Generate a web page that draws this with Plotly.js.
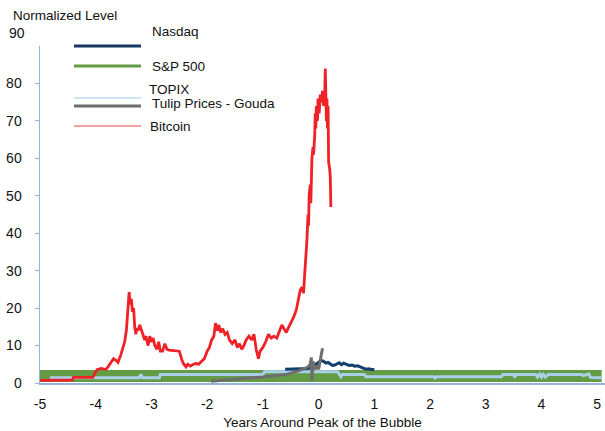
<!DOCTYPE html>
<html>
<head>
<meta charset="utf-8">
<script src="https://cdn.plot.ly/plotly-3.0.1.min.js"></script>
<style>html,body{margin:0;padding:0;background:#fff;}#chart{width:605px;height:431px;}</style>
</head>
<body>
<div id="chart"></div>
<script>
// ---- data ----
const xTickVals = [-5,-4,-3,-2,-1,0,1,2,3,4,5];
const xTickText = ["-5","-4","-3","-2","-1","0","1","2","3","4","5"];
const yTickVals = [0,10,20,30,40,50,60,70,80];
const yTickText = ["0","10","20","30","40","50","60","70","80"];

const seriesNames = ["Nasdaq","S&P 500","TOPIX","Tulip Prices - Gouda","Bitcoin"];

const sp500X = [-5.0,-4.0,-3.0,-2.0,-1.0,0.0,1.0,2.0,3.0,4.0,5.08];
const sp500Y = [1.9,1.9,1.9,1.9,1.9,1.9,1.9,1.9,1.9,1.9,1.9];

const topixX = [-4.82,-3.22,-3.19,-3.16,-2.86,-2.84,-1.0,-0.97,0.34,0.37,0.40,0.43,0.82,0.85,2.07,2.09,2.12,3.28,3.31,3.5,3.52,3.55,3.9,3.93,3.97,4.0,4.03,4.07,4.12,4.15,4.2,4.72,4.75,4.85,4.88,5.08];
const topixY = [1.4,1.4,2.3,1.4,1.4,2.3,2.3,3.0,3.0,2.3,1.7,2.3,2.3,1.7,1.7,1.3,1.7,1.7,2.3,2.3,1.5,2.3,2.3,1.6,2.4,1.6,2.3,1.6,2.3,2.3,2.3,2.3,2.0,2.4,1.5,1.4];

const nasdaqX = [-0.6,-0.45,-0.3,-0.18,-0.12,-0.06,0.0,0.05,0.09,0.13,0.17,0.21,0.25,0.29,0.33,0.37,0.41,0.45,0.5,0.55,0.6,0.65,0.7,0.75,0.8,0.85,0.9,0.95,1.0];
const nasdaqY = [3.7,3.8,3.8,3.9,4.3,4.9,5.6,6.0,5.8,5.3,5.5,5.0,4.7,4.8,5.1,5.4,4.9,5.3,5.0,4.7,4.8,4.5,4.6,4.2,4.0,3.7,3.8,3.6,3.6];

const tulipX = [-1.93,-1.5,-1.0,-0.57,-0.35,-0.2,-0.15,-0.13,-0.12,-0.1,-0.07,-0.04,0.0,0.07];
const tulipY = [0.5,1.0,1.6,2.3,3.3,4.2,5.0,6.8,0.6,5.8,3.6,4.6,3.7,9.3];

const btcX = [-5.0,-4.6,-4.42,-4.4,-4.05,-4.0,-3.97,-3.9,-3.82,-3.78,-3.72,-3.68,-3.63,-3.6,-3.55,-3.52,-3.48,-3.45,-3.42,-3.4,-3.38,-3.36,-3.34,-3.32,-3.3,-3.28,-3.27,-3.24,-3.21,-3.18,-3.15,-3.12,-3.1,-3.06,-3.03,-3.0,-2.97,-2.94,-2.9,-2.87,-2.84,-2.8,-2.76,-2.72,-2.68,-2.6,-2.5,-2.45,-2.42,-2.38,-2.35,-2.3,-2.25,-2.2,-2.15,-2.1,-2.05,-2.0,-1.96,-1.92,-1.88,-1.85,-1.82,-1.79,-1.76,-1.72,-1.68,-1.64,-1.6,-1.55,-1.5,-1.46,-1.42,-1.38,-1.34,-1.3,-1.25,-1.2,-1.16,-1.12,-1.08,-1.05,-1.0,-0.95,-0.9,-0.85,-0.8,-0.75,-0.7,-0.66,-0.62,-0.58,-0.55,-0.5,-0.45,-0.4,-0.36,-0.33,-0.3,-0.27,-0.25,-0.23,-0.21,-0.19,-0.18,-0.17,-0.15,-0.14,-0.13,-0.12,-0.1,-0.09,-0.07,-0.06,-0.05,-0.04,-0.02,-0.01,0.01,0.03,0.05,0.07,0.09,0.11,0.12,0.13,0.14,0.15,0.16,0.17,0.18,0.2,0.21,0.22];
const btcY = [0.7,0.7,0.8,1.5,1.5,3.0,3.6,3.9,3.6,4.3,5.5,6.5,6.0,5.5,7.5,9.0,11,14,19,24.3,21,22.5,19,20,15,13,14.5,14,15.5,14,12.5,11.5,12.5,10,12.5,11,12,10,9,11,8.5,8.5,10.5,9,8.8,8.6,8.5,6.0,5.0,4.3,5.0,4.5,5.0,5.2,5.0,5.8,6.5,8.5,9.5,11.5,12.5,16,14,15.5,13.5,14.5,13,13.5,11.5,10.5,11.5,9.5,10.5,9,10,11.5,12.5,11.5,13,9,6.5,8.5,9.5,11,13,12,12.5,12,14,15.5,14.5,13.5,14.5,16,17.5,19.5,23,24.8,25.6,24,29,33,38,45,42,50,53,48,55,60,63,61,66,72,68,74,70,76,72,77,75,78,74,77,84,76,70,76,68,74,59,57,55,47];

// ---- layout helpers (pixel -> paper) ----
const L = 40, T = 46, W = 565, H = 337;
const px = p => (p - L) / W;
const py = p => (T + H - p) / H;

const font = "Liberation Sans, Arial, sans-serif";
const axisColor = "#95b3d7";

const traces = [
  {x: sp500X, y: sp500Y, name: seriesNames[1], mode: "lines", line: {color: "#639c45", width: 12}},
  {x: topixX, y: topixY, name: seriesNames[2], mode: "lines", line: {color: "#a9cfeb", width: 3}},
  {x: nasdaqX, y: nasdaqY, name: seriesNames[0], mode: "lines", line: {color: "#123f6c", width: 3}},
  {x: tulipX, y: tulipY, name: seriesNames[3], mode: "lines", line: {color: "#6d6d6d", width: 3}},
  {x: btcX, y: btcY, name: seriesNames[4], mode: "lines", line: {color: "#ee2227", width: 2.8}}
];

const legendItems = [
  {name: seriesNames[0], color: "#17375e", width: 3, lineY: 46, textX: 150, textY: 32},
  {name: seriesNames[1], color: "#639c45", width: 3, lineY: 66, textX: 150, textY: 66},
  {name: seriesNames[2], color: "#bcdcf2", width: 1.5, lineY: 98, textX: 147, textY: 90},
  {name: seriesNames[3], color: "#6d6d6d", width: 3, lineY: 106, textX: 150, textY: 104},
  {name: seriesNames[4], color: "#f08585", width: 1.5, lineY: 126, textX: 148, textY: 126}
];

const shapes = legendItems.map(it => ({
  type: "line", xref: "paper", yref: "paper",
  x0: px(74), x1: px(141), y0: py(it.lineY), y1: py(it.lineY),
  line: {color: it.color, width: it.width}
}));

const annotations = legendItems.map(it => ({
  text: it.name, xref: "paper", yref: "paper", x: px(it.textX), y: py(it.textY),
  xanchor: "left", yanchor: "middle", showarrow: false,
  font: {family: font, size: 13.5, color: "#111"}
}));
annotations.push({text: "Normalized Level", xref: "paper", yref: "paper", x: px(11), y: py(15),
  xanchor: "left", yanchor: "middle", showarrow: false, font: {family: font, size: 13.5, color: "#111"}});
annotations.push({text: "90", xref: "paper", yref: "paper", x: px(27), y: py(33),
  xanchor: "right", yanchor: "middle", showarrow: false, font: {family: font, size: 14, color: "#111"}});

const layout = {
  width: 605, height: 431,
  margin: {l: L, r: 0, t: T, b: 431 - T - H, pad: 0},
  paper_bgcolor: "#fff", plot_bgcolor: "#fff",
  showlegend: false,
  font: {family: font, size: 14, color: "#111"},
  xaxis: {
    range: [-5, 5.14], tickvals: xTickVals, ticktext: xTickText,
    showline: true, linecolor: axisColor, linewidth: 1.5, ticks: "",
    showgrid: false, zeroline: false, tickfont: {family: font, size: 14, color: "#111"},
    ticklabelstandoff: 8,
    title: {text: "Years Around Peak of the Bubble", font: {family: font, size: 13.5, color: "#111"}, standoff: 6}
  },
  yaxis: {
    range: [0, 90], tickvals: yTickVals, ticktext: yTickText,
    showline: true, linecolor: axisColor, linewidth: 1.5, ticks: "outside", ticklen: 4, tickcolor: axisColor,
    showgrid: false, zeroline: false, tickfont: {family: font, size: 14, color: "#111"},
    ticklabelstandoff: 10
  },
  shapes: shapes,
  annotations: annotations
};

Plotly.newPlot("chart", traces, layout, {displayModeBar: false, staticPlot: true});
</script>
</body>
</html>
